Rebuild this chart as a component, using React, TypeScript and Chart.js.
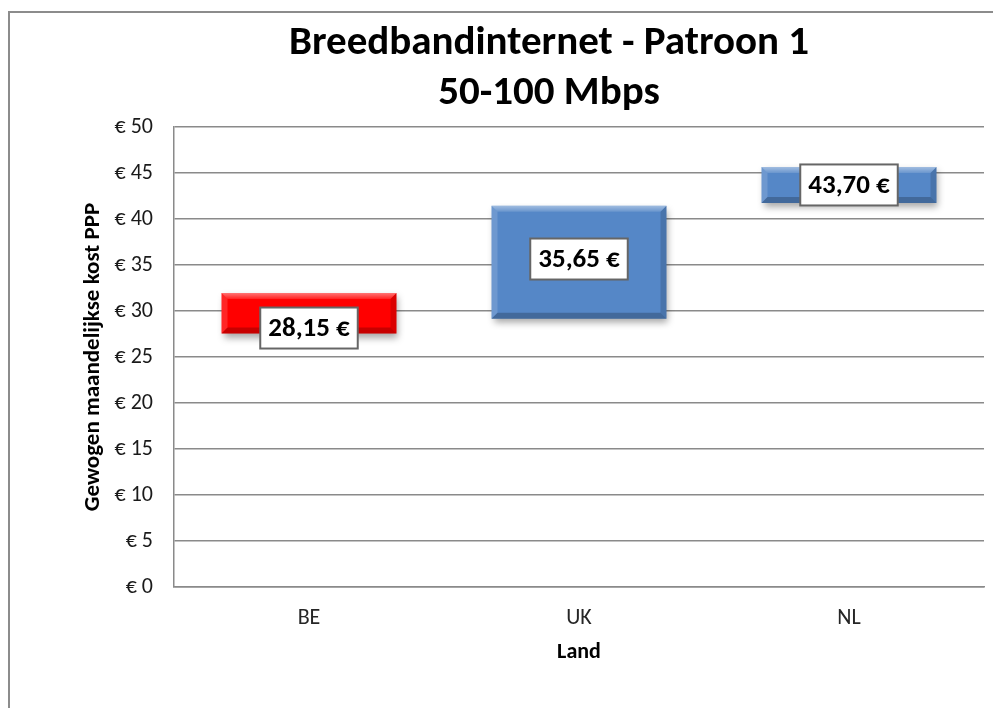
import React, { useEffect, useRef } from 'react';
import { Chart, registerables } from 'chart.js';

Chart.register(...registerables);

// ---- data ----
const countries = ['BE', 'UK', 'NL'];
const minCost = [27.55, 29.15, 41.75];
const maxCost = [31.95, 41.45, 45.65];
const avgCost = [28.15, 35.65, 43.7];
const barColors = ['#FF0000', '#5587C7', '#5587C7'];
const yMin = 0;
const yMax = 50;
const yStep = 5;
const titleLines = ['Breedbandinternet - Patroon 1', '50-100 Mbps'];
const yTitle = 'Gewogen maandelijkse kost PPP';
const xTitle = 'Land';

const FONT = "Carlito, Lato, 'Open Sans', sans-serif";
const GRID = '#8a8a8a';

const shadowPlugin = {
  id: 'barShadow',
  beforeDatasetDraw(chart: any) {
    const ctx = chart.ctx;
    ctx.save();
    ctx.shadowColor = 'rgba(0,0,0,0.35)';
    ctx.shadowBlur = 7;
    ctx.shadowOffsetX = 2;
    ctx.shadowOffsetY = 4;
  },
  afterDatasetDraw(chart: any) {
    chart.ctx.restore();
  },
};

function poly(ctx: CanvasRenderingContext2D, pts: number[][], fill: string | CanvasGradient) {
  ctx.beginPath();
  ctx.moveTo(pts[0][0], pts[0][1]);
  for (let i = 1; i < pts.length; i++) ctx.lineTo(pts[i][0], pts[i][1]);
  ctx.closePath();
  ctx.fillStyle = fill;
  ctx.fill();
}

const bevelAndLabels = {
  id: 'bevelAndLabels',
  afterDatasetsDraw(chart: any) {
    const ctx: CanvasRenderingContext2D = chart.ctx;
    const meta = chart.getDatasetMeta(0);
    const yScale = chart.scales.y;
    meta.data.forEach((bar: any, i: number) => {
      const { x, y, base, width } = bar.getProps(['x', 'y', 'base', 'width'], true);
      const l = x - width / 2;
      const r = x + width / 2;
      const t = Math.min(y, base);
      const b = Math.max(y, base);
      const e = 6;
      ctx.save();
      const gTop = ctx.createLinearGradient(0, t, 0, t + e);
      gTop.addColorStop(0, 'rgba(255,255,255,0.45)');
      gTop.addColorStop(1, 'rgba(255,255,255,0.12)');
      poly(ctx, [[l, t], [r, t], [r - e, t + e], [l + e, t + e]], gTop);
      poly(ctx, [[l, t], [l + e, t + e], [l + e, b - e], [l, b]], 'rgba(255,255,255,0.15)');
      poly(ctx, [[l, b], [l + e, b - e], [r - e, b - e], [r, b]], 'rgba(0,0,0,0.22)');
      poly(ctx, [[r, t], [r, b], [r - e, b - e], [r - e, t + e]], 'rgba(0,0,0,0.14)');
      ctx.restore();

      // value label box
      const text = avgCost[i].toFixed(2).replace('.', ',') + ' €';
      const cy = yScale.getPixelForValue(avgCost[i]);
      ctx.save();
      ctx.font = `bold 27px ${FONT}`;
      const tw = ctx.measureText(text).width;
      const bw = tw + 16;
      const bh = 41;
      ctx.fillStyle = '#ffffff';
      ctx.fillRect(x - bw / 2, cy - bh / 2, bw, bh);
      ctx.strokeStyle = '#666666';
      ctx.lineWidth = 2;
      ctx.strokeRect(x - bw / 2, cy - bh / 2, bw, bh);
      ctx.fillStyle = '#000000';
      ctx.textAlign = 'center';
      ctx.textBaseline = 'middle';
      ctx.fillText(text, x, cy + 1);
      ctx.restore();
    });
  },
};

export default function App() {
  const ref = useRef<HTMLCanvasElement>(null);

  useEffect(() => {
    if (!ref.current) return;
    const chart = new Chart(ref.current, {
      type: 'bar',
      data: {
        labels: countries,
        datasets: [
          {
            data: countries.map((_, i) => [minCost[i], maxCost[i]]) as any,
            backgroundColor: barColors,
            borderWidth: 0,
            barPercentage: 0.648,
            categoryPercentage: 1,
          },
        ],
      },
      options: {
        responsive: false,
        animation: false,
        devicePixelRatio: 1,
        layout: { padding: 0 },
        plugins: {
          legend: { display: false },
          tooltip: { enabled: false },
          title: {
            display: true,
            text: titleLines,
            color: '#000000',
            font: { family: FONT, size: 41, weight: 'bold', lineHeight: 50 / 41 },
            padding: { top: 11, bottom: 8 },
          },
        },
        scales: {
          x: {
            grid: { display: false, drawTicks: false },
            border: { display: true, color: GRID, width: 1.5 },
            ticks: { color: '#262626', font: { family: FONT, size: 22 }, padding: 18 },
            title: {
              display: true,
              text: xTitle,
              color: '#000000',
              font: { family: FONT, size: 22, weight: 'bold', lineHeight: 1.2 },
              padding: { top: 0, bottom: 42 },
            },
            afterFit(scale: any) {
              scale.height = 121;
            },
          },
          y: {
            min: yMin,
            max: yMax,
            ticks: {
              stepSize: yStep,
              color: '#1a1a1a',
              font: { family: FONT, size: 22 },
              padding: 21,
              callback: (v: any) => '€ ' + v,
            },
            grid: { color: GRID, lineWidth: 1.5, drawTicks: false },
            border: { display: true, color: GRID, width: 1.5 },
            title: {
              display: true,
              text: yTitle,
              color: '#000000',
              font: { family: FONT, size: 23, weight: 'bold', lineHeight: 1.2 },
              padding: { top: 71.5, bottom: 0 },
            },
            afterFit(scale: any) {
              scale.width = 166;
            },
          },
          yRight: {
            position: 'right',
            display: true,
            min: yMin,
            max: yMax,
            ticks: { display: false },
            grid: { display: false, drawTicks: false },
            border: { display: false },
            afterFit(scale: any) {
              scale.width = 106;
            },
          },
        },
      } as any,
      plugins: [shadowPlugin, bevelAndLabels],
    });
    return () => chart.destroy();
  }, []);

  return (
    <div style={{ position: 'relative', width: 993, height: 700, overflow: 'hidden', background: '#ffffff' }}>
      <div
        style={{
          position: 'absolute',
          left: 0,
          top: 3,
          width: 1300,
          height: 900,
          border: '2px solid #8c8c8c',
        }}
      />
      <canvas ref={ref} width={1082} height={700} style={{ position: 'absolute', left: 0, top: 0 }} />
    </div>
  );
}
